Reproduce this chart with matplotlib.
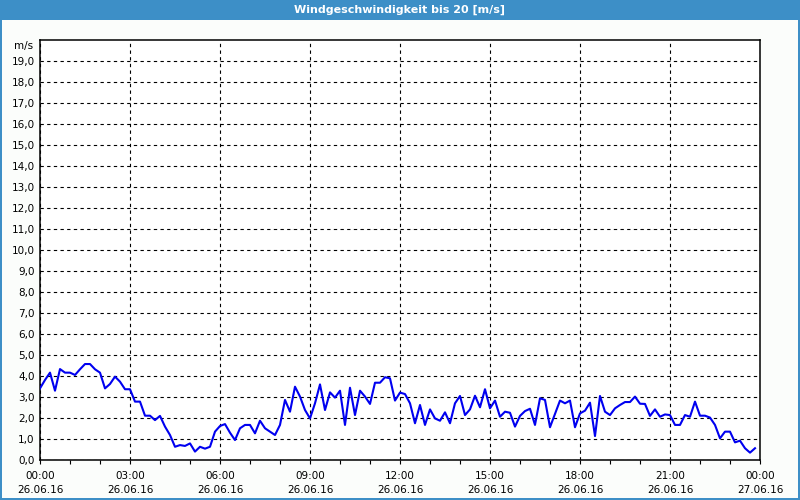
import matplotlib
matplotlib.use("Agg")
import matplotlib.pyplot as plt
import numpy as np
from matplotlib.patches import Rectangle

title = "Windgeschwindigkeit bis 20 [m/s]"
unit = "m/s"

# wind speed every 10 minutes from 00:00 to 23:50 (26.06.16)
speed = [
    3.41, 3.81, 4.16, 3.30, 4.33, 4.16, 4.16, 4.05, 4.32, 4.57,
    4.57, 4.32, 4.16, 3.41, 3.62, 3.97, 3.73, 3.37, 3.37, 2.78,
    2.78, 2.11, 2.11, 1.90, 2.10, 1.59, 1.19, 0.63, 0.71, 0.67,
    0.79, 0.40, 0.63, 0.54, 0.63, 1.35, 1.62, 1.71, 1.30, 0.95,
    1.51, 1.67, 1.67, 1.27, 1.87, 1.51, 1.35, 1.19, 1.67, 2.86,
    2.30, 3.49, 3.02, 2.38, 1.98, 2.70, 3.60, 2.38, 3.22, 2.97,
    3.30, 1.67, 3.44, 2.14, 3.30, 3.02, 2.67, 3.68, 3.68, 3.94,
    3.89, 2.83, 3.21, 3.14, 2.70, 1.75, 2.62, 1.67, 2.41, 1.98,
    1.87, 2.27, 1.75, 2.70, 3.05, 2.14, 2.41, 3.06, 2.51, 3.37,
    2.46, 2.83, 2.06, 2.30, 2.25, 1.59, 2.10, 2.33, 2.44, 1.67,
    2.94, 2.86, 1.56, 2.19, 2.83, 2.70, 2.83, 1.56, 2.22, 2.35,
    2.73, 1.14, 3.05, 2.30, 2.14, 2.46, 2.62, 2.76, 2.76, 3.02,
    2.68, 2.67, 2.10, 2.41, 2.06, 2.17, 2.14, 1.67, 1.67, 2.14,
    2.06, 2.78, 2.11, 2.11, 2.02, 1.67, 1.03, 1.35, 1.35, 0.84,
    0.92, 0.56, 0.35, 0.56,
]
hours = np.arange(len(speed)) / 6.0

x_major = [0, 3, 6, 9, 12, 15, 18, 21, 24]
x_labels = ["00:00\n26.06.16", "03:00\n26.06.16", "06:00\n26.06.16",
            "09:00\n26.06.16", "12:00\n26.06.16", "15:00\n26.06.16",
            "18:00\n26.06.16", "21:00\n26.06.16", "00:00\n27.06.16"]
y_ticks = list(range(0, 20))
y_labels = [f"{v},0" for v in y_ticks]

W, H = 800, 500
fig = plt.figure(figsize=(W / 100, H / 100), dpi=100)
fig.patch.set_facecolor("#FBFDFB")

blue = "#3D8FC7"
# title bar
fig.patches.append(Rectangle((0, 1 - 20 / H), 1, 20 / H, transform=fig.transFigure,
                             facecolor=blue, edgecolor="none", zorder=0))
# frame borders
fig.patches.append(Rectangle((0, 0), 1.5 / W, 1, transform=fig.transFigure,
                             facecolor=blue, edgecolor="none"))
fig.patches.append(Rectangle((1 - 2 / W, 0), 2 / W, 1, transform=fig.transFigure,
                             facecolor=blue, edgecolor="none"))
fig.patches.append(Rectangle((0, 0), 1, 2 / H, transform=fig.transFigure,
                             facecolor=blue, edgecolor="none"))
fig.text(0.5, 1 - 10 / H, title, ha="center", va="center", color="white",
         fontsize=8, fontweight="bold", family="DejaVu Sans")

ax = fig.add_axes([40 / W, 1 - 460 / H, 720 / W, 420 / H])
ax.set_facecolor("white")
ax.plot(hours, speed, color="#0000F0", lw=1.5, solid_joinstyle="round", zorder=3)

ax.set_xlim(0, 24)
ax.set_ylim(0, 20)
ax.set_xticks(x_major)
ax.set_xticklabels(x_labels, fontsize=7.5, linespacing=1.45)
ax.set_xticks(np.arange(0, 25, 1), minor=True)
ax.set_yticks(y_ticks)
ax.set_yticklabels(y_labels, fontsize=7.5)

ax.grid(True, which="major", color="black", linestyle=(0, (3, 3)), lw=0.8)
ax.tick_params(axis="x", which="major", length=3, width=0.8, pad=5, colors="black")
ax.tick_params(axis="x", which="minor", length=3, width=0.8)
ax.tick_params(axis="y", length=0, pad=4)
for s in ax.spines.values():
    s.set_linewidth(1.1)
    s.set_color("black")

ax.text(-0.01, 1.0 - 6 / 420, unit, transform=ax.transAxes, ha="right",
        va="center", fontsize=7.5)

fig.savefig("out.png", dpi=100, facecolor=fig.get_facecolor())
